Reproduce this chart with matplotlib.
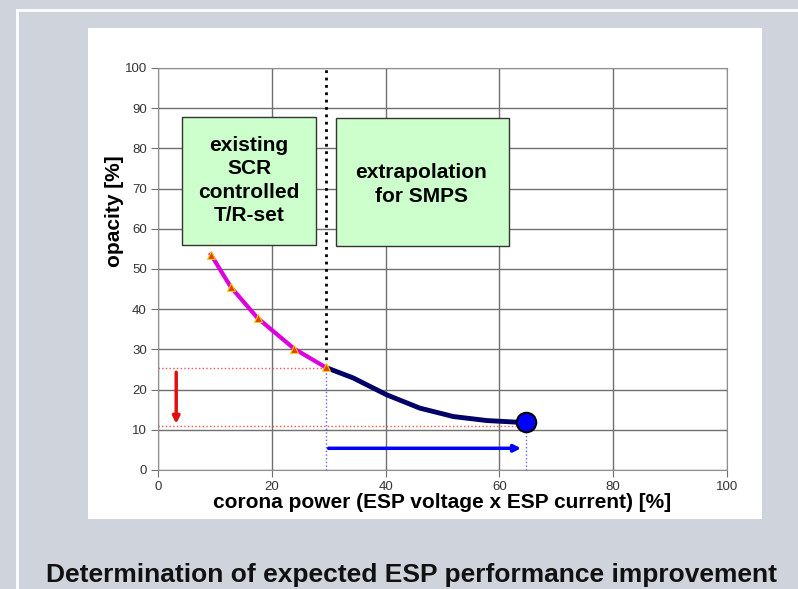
import matplotlib.pyplot as plt
from matplotlib.patches import Rectangle

plt.rcParams['font.family'] = ['Liberation Sans', 'DejaVu Sans']

# measured points of the existing SCR T/R-set
scr_x = [9.3, 12.8, 17.5, 23.9, 29.5]
scr_y = [53.6, 45.5, 37.8, 30.2, 25.5]

# extrapolated curve for SMPS
smps_x = [29.5, 34.3, 40.2, 46.0, 51.9, 57.8, 63.0, 64.7]
smps_y = [25.5, 22.9, 18.7, 15.4, 13.3, 12.3, 11.9, 11.9]

x_ticks = [0, 20, 40, 60, 80, 100]
y_ticks = [0, 10, 20, 30, 40, 50, 60, 70, 80, 90, 100]

bg = '#cfd3db'
fig = plt.figure(figsize=(7.98, 5.89), dpi=100, facecolor=bg)

# white frame lines and white chart area (behind the axes)
fig.add_artist(plt.Line2D([17/798, 17/798], [0, 1 - 10/589], color='white', lw=2, zorder=-2))
fig.add_artist(plt.Line2D([17/798, 1], [1 - 10/589, 1 - 10/589], color='white', lw=2, zorder=-2))
fig.add_artist(Rectangle((88/798, 1 - 519/589), (762 - 88)/798, (519 - 28)/589,
                         transform=fig.transFigure, facecolor='white', edgecolor='none',
                         zorder=-1))

ax = fig.add_axes([158/798, 1 - 470/589, (727 - 158)/798, (470 - 68)/589])
ax.set_facecolor('white')
ax.set_xlim(0, 100)
ax.set_ylim(0, 100)
ax.set_xticks(x_ticks)
ax.set_yticks(y_ticks)
ax.grid(True, color='#707070', lw=1)
ax.set_axisbelow(True)
for s in ax.spines.values():
    s.set_color('#909090')
ax.tick_params(colors='#707070', labelcolor='#333333', labelsize=9.5, length=5, pad=3)

# guide lines
ax.plot([0, 29.5], [25.3, 25.3], color='#ff5050', ls=':', lw=1)
ax.plot([0, 64.7], [11.0, 11.0], color='#ff5050', ls=':', lw=1)
ax.plot([29.5, 29.5], [25.5, 100], color='black', ls=':', lw=2)
ax.plot([29.5, 29.5], [0, 25.5], color='#6060ff', ls=':', lw=1)
ax.plot([64.7, 64.7], [0, 11.9], color='#6060ff', ls=':', lw=1)

# arrows
ax.annotate('', xy=(3.2, 10.8), xytext=(3.2, 25.0),
            arrowprops=dict(arrowstyle='-|>', color='#e01010', lw=2.5, mutation_scale=10))
ax.annotate('', xy=(64.3, 5.4), xytext=(29.5, 5.4),
            arrowprops=dict(arrowstyle='-|>', color='#0000ff', lw=2.5, mutation_scale=10))

# curves
ax.plot(smps_x, smps_y, color='#000066', lw=3.5, solid_capstyle='round',
        solid_joinstyle='round', zorder=4)
ax.plot(scr_x, scr_y, color='#dd00dd', lw=3, solid_joinstyle='round', zorder=5)
ax.plot(scr_x, scr_y, ls='none', marker='^', ms=6, color='#e04000',
        markeredgecolor='#ffcc00', markeredgewidth=0.8, zorder=6)
ax.plot([smps_x[-1]], [smps_y[-1]], ls='none', marker='o', ms=14, color='#0000ff',
        markeredgecolor='black', markeredgewidth=1.5, zorder=7)

# text boxes
box_kw = dict(facecolor='#ccffcc', edgecolor='#333333', lw=1, zorder=8)
ax.add_patch(Rectangle((4.3, 55.9), 23.4, 31.8, **box_kw))
ax.add_patch(Rectangle((31.2, 55.7), 30.5, 31.8, **box_kw))
ax.text(16.0, 72.0, 'existing\nSCR\ncontrolled\nT/R-set', ha='center', va='center',
        fontsize=15, fontweight='bold', linespacing=1.3, zorder=9)
ax.text(46.3, 71.0, 'extrapolation\nfor SMPS', ha='center', va='center',
        fontsize=15, fontweight='bold', linespacing=1.3, zorder=9)

ax.set_xlabel('corona power (ESP voltage x ESP current) [%]', fontsize=15,
              fontweight='bold', va='center')
ax.xaxis.set_label_coords(0.5, (470 - 503) / 402)
ax.set_ylabel('opacity [%]', fontsize=15, fontweight='bold', va='center')
ax.yaxis.set_label_coords((114 - 158) / 569, (470 - 211) / 402)

fig.text(412/798, 1 - 582/589, 'Determination of expected ESP performance improvement',
         ha='center', va='baseline', fontsize=19, fontweight='bold', color='#111111')

fig.savefig('out.png', dpi=100, facecolor=bg)
